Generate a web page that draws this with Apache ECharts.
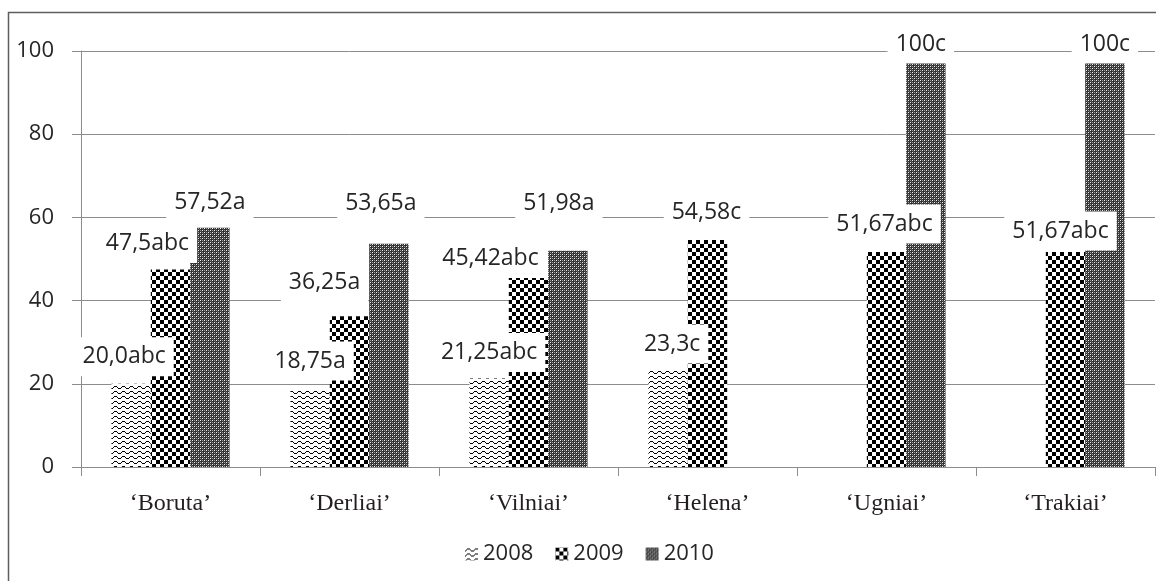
<!DOCTYPE html>
<html>
<head>
<meta charset="utf-8">
<script src="https://cdn.jsdelivr.net/npm/echarts@6/dist/echarts.min.js"></script>
<style>
  html, body { margin: 0; padding: 0; background: #fff; }
  #chart { width: 1156px; height: 581px; }
</style>
</head>
<body>
<div id="chart"></div>
<script>
// Cultivars and observation years
const categories = ['‘Boruta’', '‘Derliai’', '‘Vilniai’', '‘Helena’', '‘Ugniai’', '‘Trakiai’'];
const years = ['2008', '2009', '2010'];

// Values per year (null = not measured)
const values2008 = [20.0, 18.75, 21.25, 23.3, null, null];
const values2009 = [47.5, 36.25, 45.42, 54.58, 51.67, 51.67];
const values2010 = [57.52, 53.65, 51.98, null, 100, 100];

// Value labels with significance letters
const labels2008 = ['20,0abc', '18,75a', '21,25abc', '23,3c', '', ''];
const labels2009 = ['47,5abc', '36,25a', '45,42abc', '54,58c', '51,67abc', '51,67abc'];
const labels2010 = ['57,52a', '53,65a', '51,98a', '', '100c', '100c'];

// Y axis range
const yMin = 0, yMax = 100, yStep = 20;

// Label nudges [dx, dy] from the top-centre of each bar
const labelShift = [
  [[-7, -27], [0, -28], [0, -26], [4, -26], [0, 0], [0, 0]],
  [[-23, -26], [-25, -34], [-38, -20], [-1, -27], [-2, -28], [-5, -21]],
  [[0, -25], [-8, -40], [-9, -47], [0, 0], [-5, -7], [0, -7]]
];

// ---- fill patterns ----
function makeCanvas(w, h) {
  const c = document.createElement('canvas');
  c.width = w; c.height = h;
  return c;
}
function wavePattern() {
  const c = makeCanvas(8, 5);
  const g = c.getContext('2d');
  g.fillStyle = '#fff';
  g.fillRect(0, 0, 8, 5);
  g.fillStyle = '#000';
  // stepped zig-zag line, one pixel thick
  const pts = [[0, 3], [1, 2], [2, 1], [3, 1], [4, 1], [5, 2], [6, 3], [7, 3]];
  pts.forEach(p => g.fillRect(p[0], p[1], 1, 1));
  return c;
}
function checkerPattern() {
  const c = makeCanvas(8, 8);
  const g = c.getContext('2d');
  g.fillStyle = '#fff';
  g.fillRect(0, 0, 8, 8);
  g.fillStyle = '#000';
  g.fillRect(0, 0, 4, 4);
  g.fillRect(4, 4, 4, 4);
  return c;
}
function finePattern() {
  const c = makeCanvas(4, 4);
  const g = c.getContext('2d');
  g.fillStyle = '#303030';
  g.fillRect(0, 0, 4, 4);
  g.fillStyle = '#f0f0f0';
  g.fillRect(0, 0, 1, 1);
  g.fillRect(2, 2, 1, 1);
  g.fillStyle = '#a0a0a0';
  g.fillRect(2, 0, 1, 1);
  g.fillRect(0, 2, 1, 1);
  g.fillStyle = '#5a5a5a';
  g.fillRect(1, 3, 1, 1);
  g.fillRect(3, 1, 1, 1);
  return c;
}
const fills = [
  { image: wavePattern(), repeat: 'repeat' },
  { image: checkerPattern(), repeat: 'repeat' },
  { image: finePattern(), repeat: 'repeat' }
];

const sans = '"Open Sans", "DejaVu Sans", sans-serif';
const serif = '"Liberation Serif", "DejaVu Serif", serif';
const lineGray = '#8c8c8c';

function buildSeries(idx, values, labels) {
  return {
    name: years[idx],
    type: 'bar',
    barGap: '0%',
    barCategoryGap: '34%',
    itemStyle: { color: fills[idx] },
    data: values.map((v, i) => ({
      value: v,
      label: {
        show: v !== null && labels[i] !== '',
        position: 'top',
        distance: 0,
        align: 'center',
        verticalAlign: 'middle',
        offset: labelShift[idx][i],
        formatter: () => labels[i],
        fontFamily: sans,
        fontSize: 23,
        color: '#262626',
        backgroundColor: '#fff',
        padding: [8, 8]
      }
    })),
    emphasis: { disabled: true }
  };
}

const chart = echarts.init(document.getElementById('chart'), null, { renderer: 'canvas' });
chart.setOption({
  animation: false,
  backgroundColor: '#fff',
  graphic: [{
    type: 'rect',
    z: -10,
    shape: { x: 8.5, y: 12.5, width: 1200, height: 620 },
    style: { fill: 'none', stroke: '#5e5e5e', lineWidth: 1.5 }
  }],
  grid: { left: 81, right: 1, top: 51, bottom: 114, containLabel: false },
  legend: {
    data: years,
    left: 460,
    top: 538,
    icon: 'rect',
    itemWidth: 13,
    itemHeight: 13,
    itemGap: 22,
    textStyle: { fontFamily: sans, fontSize: 22, color: '#262626' }
  },
  xAxis: {
    type: 'category',
    data: categories,
    axisLine: { show: true, lineStyle: { color: lineGray, width: 1 } },
    axisTick: { show: true, length: 9, alignWithLabel: false, lineStyle: { color: lineGray } },
    axisLabel: { fontFamily: serif, fontSize: 24, color: '#231f20', margin: 25 }
  },
  yAxis: {
    type: 'value',
    min: yMin,
    max: yMax,
    interval: yStep,
    axisLine: { show: true, lineStyle: { color: lineGray, width: 1 } },
    axisTick: { show: true, length: 9, lineStyle: { color: lineGray } },
    axisLabel: { fontFamily: sans, fontSize: 22, color: '#262626', margin: 27 },
    splitLine: { show: true, lineStyle: { color: lineGray, width: 1 } }
  },
  series: [
    buildSeries(0, values2008, labels2008),
    buildSeries(1, values2009, labels2009),
    buildSeries(2, values2010, labels2010)
  ]
});
</script>
</body>
</html>
